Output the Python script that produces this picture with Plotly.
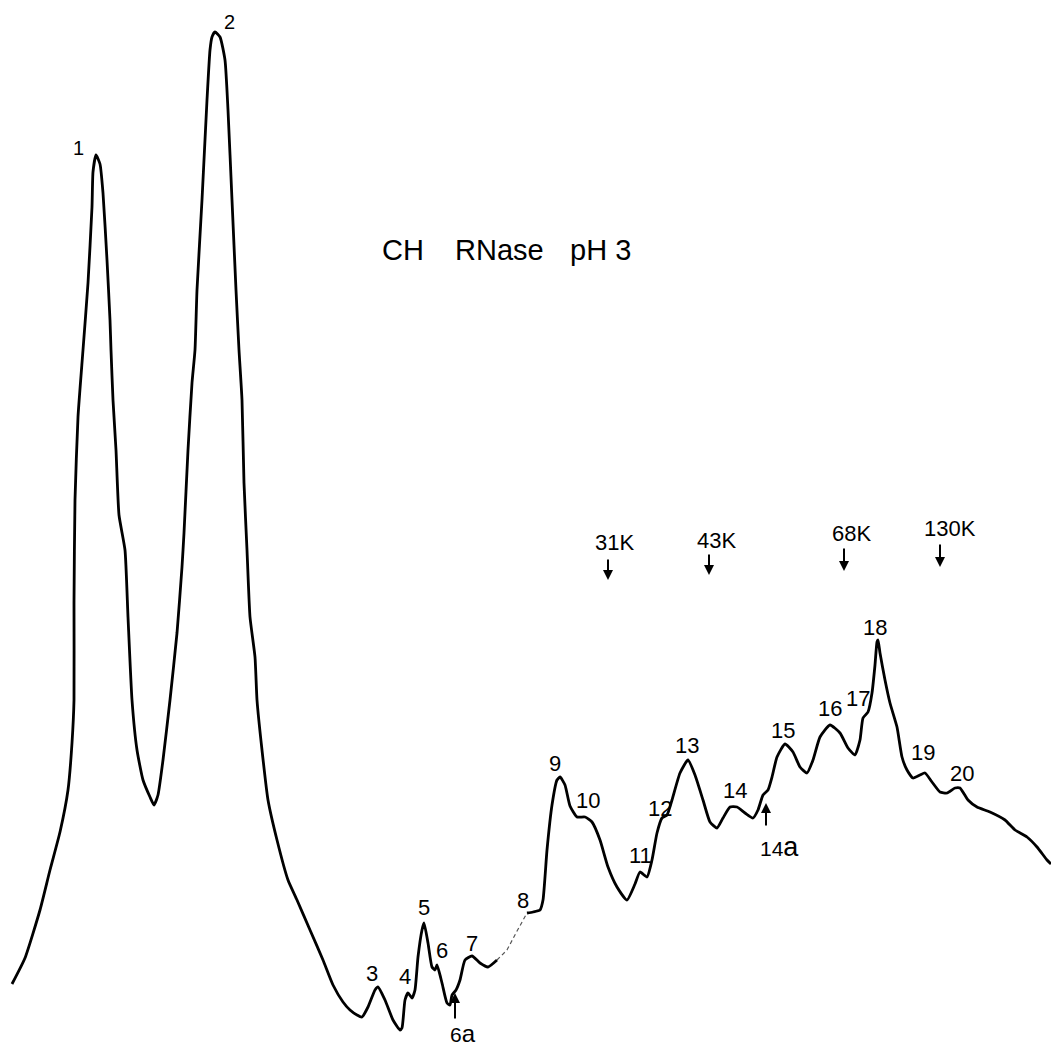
import plotly.graph_objects as go

# Densitometer scan of the gel lane: migration position (x) and pen position (y, downward)
scan_x = [12, 25, 40, 50, 60, 68, 72, 74, 74, 75, 78, 83, 88, 92, 93, 96, 100, 103, 107, 110,
          111, 113, 116, 119, 125, 128, 132, 137, 143, 150, 154, 158, 163, 170, 177, 182, 184,
          188, 192, 195, 197, 202, 207, 210, 212, 215, 220, 225, 228, 232, 236, 239, 242, 244,
          247, 250, 255, 257, 262, 268, 277, 288, 297, 310, 323, 333, 343, 350, 357, 362, 368,
          375, 378, 385, 393, 400, 402, 405, 408, 412, 415, 418, 422, 424, 428, 432, 435, 437,
          442, 447, 450, 452, 456, 460, 465, 472, 480, 488, 497,
          None,
          527, 533, 540, 543, 547, 552, 557, 560, 565, 570, 577, 585, 592, 600, 608, 617, 627,
          635, 640, 647, 652, 657, 662, 667, 672, 680, 688, 695, 703, 710, 717, 723, 730, 737,
          745, 753, 758, 763, 768, 772, 777, 785, 793, 800, 807, 813, 820, 830, 840, 848, 855,
          860, 863, 868, 872, 875, 877, 878, 880, 885, 890, 897, 902, 907, 913, 920, 925, 932,
          940, 947, 955, 960, 968, 977, 990, 1005, 1015, 1027, 1037, 1047, 1051]
scan_y = [984, 958, 910, 870, 832, 790, 743, 700, 603, 500, 417, 350, 283, 207, 172, 155, 164,
          193, 260, 320, 350, 400, 450, 515, 550, 617, 700, 750, 780, 797, 805, 795, 760, 700,
          633, 567, 533, 450, 383, 350, 290, 200, 100, 50, 37, 32, 37, 60, 110, 200, 290, 350,
          400, 483, 550, 617, 657, 700, 750, 800, 840, 880, 900, 930, 960, 985, 1002, 1010,
          1015, 1017, 1007, 990, 987, 1000, 1020, 1030, 1028, 1000, 993, 998, 990, 957, 930,
          923, 943, 967, 970, 965, 983, 1003, 1005, 995, 990, 980, 960, 956, 963, 967, 960,
          None,
          913, 912, 910, 900, 850, 805, 780, 777, 785, 806, 817, 817, 822, 840, 867, 887, 900,
          884, 872, 877, 860, 833, 818, 815, 800, 773, 760, 775, 800, 822, 828, 818, 807, 807,
          813, 818, 810, 795, 790, 777, 757, 744, 752, 767, 773, 760, 737, 725, 733, 748, 755,
          740, 718, 712, 693, 665, 642, 640, 653, 680, 703, 727, 757, 770, 778, 775, 773, 782,
          792, 793, 788, 788, 800, 807, 812, 820, 830, 837, 847, 860, 864]

# Faint pen stroke bridging peaks 7 and 8
bridge_x = [497, 507, 516, 527]
bridge_y = [960, 950, 933, 913]

# Peak numbers
peak_labels = ["1", "2", "3", "4", "5", "6", "7", "8", "9", "10", "11", "12", "13",
               "14", "15", "16", "17", "18", "19", "20"]
peak_label_x = [78, 229, 372, 405, 424, 442, 472, 523, 555, 588, 640, 660, 687, 735, 783,
                830, 858, 875, 923, 962]
peak_label_y = [148, 22, 973, 976, 907, 950, 943, 900, 763, 800, 855, 808, 745, 790, 730,
                708, 698, 627, 752, 773]

# Molecular-weight markers
marker_labels = ["31K", "43K", "68K", "130K"]
marker_x = [608, 709, 844, 940]
marker_text_x = [614, 716, 851, 950]
marker_text_y = [542, 540, 533, 528]
marker_arrow_top = [558, 553, 547, 543]
marker_arrow_tip = [580, 575, 571, 567]

# Shoulders marked from below
shoulder_labels = ["6<span style='font-size:24px'>a</span>",
                   "14<span style='font-size:27px'>a</span>"]
shoulder_x = [455, 766]
shoulder_tip_y = [993, 803]
shoulder_tail_y = [1020, 827]
shoulder_text_x = [463, 779]
shoulder_text_y = [1033, 847]

# Title words
title_words = ["CH", "RNase", "pH 3"]
title_x = [403, 499, 600]
title_y = 250

FONT = "Liberation Sans, Arial, sans-serif"

fig = go.Figure()
fig.add_trace(go.Scatter(x=scan_x, y=scan_y, mode="lines", connectgaps=False,
                         line=dict(color="black", width=2.8, shape="spline", smoothing=0.5),
                         hoverinfo="skip"))
fig.add_trace(go.Scatter(x=bridge_x, y=bridge_y, mode="lines",
                         line=dict(color="#555555", width=1.2, dash="4px,3px"),
                         hoverinfo="skip"))

annotations = []
for lab, x, y in zip(peak_labels, peak_label_x, peak_label_y):
    size = 20 if lab in ("1", "2") else 22
    annotations.append(dict(x=x, y=y, text=lab, showarrow=False,
                            font=dict(family=FONT, size=size, color="black")))

for lab, x, tx, ty, top, tip in zip(marker_labels, marker_x, marker_text_x, marker_text_y,
                                    marker_arrow_top, marker_arrow_tip):
    annotations.append(dict(x=tx, y=ty, text=lab, showarrow=False,
                            font=dict(family=FONT, size=22, color="black")))
    annotations.append(dict(x=x, y=tip, ax=x, ay=top, axref="x", ayref="y", text="",
                            showarrow=True, arrowhead=2, arrowsize=1, arrowwidth=2,
                            arrowcolor="black"))

for lab, x, tip, tail, tx, ty in zip(shoulder_labels, shoulder_x, shoulder_tip_y,
                                     shoulder_tail_y, shoulder_text_x, shoulder_text_y):
    annotations.append(dict(x=x, y=tip, ax=x, ay=tail, axref="x", ayref="y", text="",
                            showarrow=True, arrowhead=2, arrowsize=1, arrowwidth=2,
                            arrowcolor="black"))
    annotations.append(dict(x=tx, y=ty, text=lab, showarrow=False,
                            font=dict(family=FONT, size=21, color="black")))

for word, x in zip(title_words, title_x):
    annotations.append(dict(x=x, y=title_y, text=word, showarrow=False,
                            font=dict(family=FONT, size=29, color="black")))

fig.update_layout(
    width=1051, height=1050,
    margin=dict(l=0, r=0, t=0, b=0),
    paper_bgcolor="white", plot_bgcolor="white",
    showlegend=False,
    annotations=annotations,
    xaxis=dict(range=[0, 1051], visible=False, fixedrange=True),
    yaxis=dict(range=[1050, 0], visible=False, fixedrange=True),
)

fig.write_html("out.html", config={"displayModeBar": False})
